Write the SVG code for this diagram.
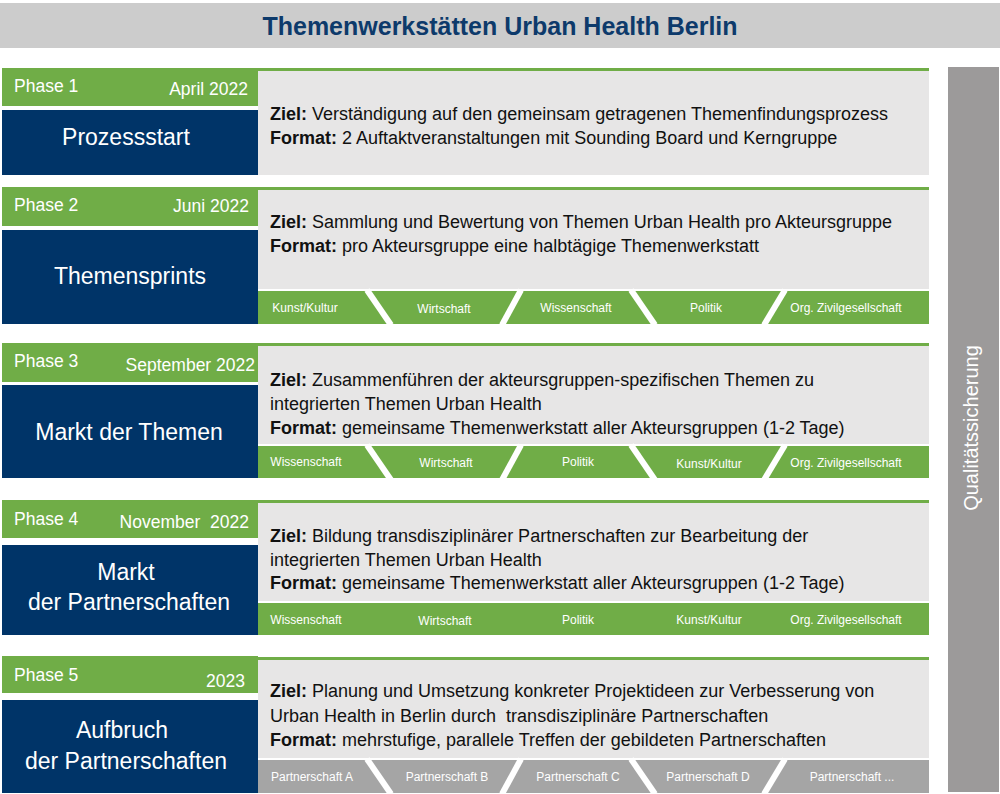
<svg xmlns="http://www.w3.org/2000/svg" xmlns:xlink="http://www.w3.org/1999/xlink" width="1000" height="794" viewBox="0 0 1000 794">
<style>
.hdr{fill:#70ad47}
.blue{fill:#003468}
.cont{fill:#e7e6e6}
.top{fill:#70ad47}
.strip{fill:#70ad47}
.gstrip{fill:#a5a5a5}
.ph{font-family:"Liberation Sans",Arial,sans-serif;font-size:17.5px;fill:#fff}
.dt{font-family:"Liberation Sans",Arial,sans-serif;font-size:17.5px;fill:#fff;text-anchor:end}
.ttl{font-family:"Liberation Sans",Arial,sans-serif;font-size:23px;fill:#fff;text-anchor:middle}
.body{font-family:"Liberation Sans",Arial,sans-serif;font-size:18px;fill:#111}
.body tspan.b{font-weight:bold}
.lab{font-family:"Liberation Sans",Arial,sans-serif;font-size:12px;fill:#fff;text-anchor:middle}
.gap{stroke:#fff;stroke-width:6;fill:none}
</style>
<defs>
<g id="chev">
<line class="gap" x1="367" y1="-1" x2="391" y2="34"/>
<line class="gap" x1="521" y1="-1" x2="502" y2="34"/>
<line class="gap" x1="631" y1="-1" x2="655" y2="34"/>
<line class="gap" x1="785" y1="-1" x2="764" y2="34"/>
</g>
</defs>
<rect width="1000" height="794" fill="#fff"/>
<g id="header">
<rect x="0" y="3" width="1000" height="45" fill="#cccccc"/>
<text x="500" y="35" text-anchor="middle" font-family="Liberation Sans,Arial,sans-serif" font-weight="bold" font-size="25" fill="#0d3a6b">Themenwerkstätten Urban Health Berlin</text>
</g>
<g id="qs">
<rect x="948" y="67" width="51" height="725" fill="#9c9a9a"/>
<text transform="translate(978,428) rotate(-90)" text-anchor="middle" font-family="Liberation Sans,Arial,sans-serif" font-size="20" fill="#fff">Qualitätssicherung</text>
</g>
<g id="phase1">
<rect class="hdr" x="2" y="68" width="256" height="38"/>
<text class="ph" x="14" y="92">Phase 1</text>
<text class="dt" x="248" y="95">April 2022</text>
<rect class="blue" x="2" y="110" width="256" height="65"/>
<text class="ttl" x="126" y="145">Prozessstart</text>
<rect class="cont" x="258" y="68" width="671" height="107"/>
<rect class="top" x="258" y="68" width="671" height="3"/>
<text class="body" x="270" y="120"><tspan class="b">Ziel:</tspan> Verständigung auf den gemeinsam getragenen Themenfindungsprozess</text>
<text class="body" x="270" y="144"><tspan class="b">Format:</tspan> 2 Auftaktveranstaltungen mit Sounding Board und Kerngruppe</text>
</g>
<g id="phase2">
<rect class="hdr" x="2" y="187" width="256" height="39"/>
<text class="ph" x="14" y="211">Phase 2</text>
<text class="dt" x="249" y="212">Juni 2022</text>
<rect class="blue" x="2" y="230" width="256" height="94"/>
<text class="ttl" x="130" y="284">Themensprints</text>
<rect class="cont" x="258" y="187" width="671" height="102"/>
<rect class="top" x="258" y="187" width="671" height="3"/>
<text class="body" x="270" y="228"><tspan class="b">Ziel:</tspan> Sammlung und Bewertung von Themen Urban Health pro Akteursgruppe</text>
<text class="body" x="270" y="252"><tspan class="b">Format:</tspan> pro Akteursgruppe eine halbtägige Themenwerkstatt</text>
<rect class="strip" x="258" y="291" width="671" height="33"/>
<use xlink:href="#chev" transform="translate(0,291)"/>
<text class="lab" x="305" y="312">Kunst/Kultur</text>
<text class="lab" x="444" y="313">Wirtschaft</text>
<text class="lab" x="576" y="312">Wissenschaft</text>
<text class="lab" x="706" y="312">Politik</text>
<text class="lab" x="846" y="312">Org. Zivilgesellschaft</text>
</g>
<g id="phase3">
<rect class="hdr" x="2" y="343" width="256" height="39"/>
<text class="ph" x="14" y="367">Phase 3</text>
<text class="dt" x="255" y="371">September 2022</text>
<rect class="blue" x="2" y="385" width="256" height="93"/>
<text class="ttl" x="129" y="440">Markt der Themen</text>
<rect class="cont" x="258" y="343" width="671" height="101"/>
<rect class="top" x="258" y="343" width="671" height="3"/>
<text class="body" x="270" y="386"><tspan class="b">Ziel:</tspan> Zusammenführen der akteursgruppen-spezifischen Themen zu</text>
<text class="body" x="270" y="410">integrierten Themen Urban Health</text>
<text class="body" x="270" y="434"><tspan class="b">Format:</tspan> gemeinsame Themenwerkstatt aller Akteursgruppen (1-2 Tage)</text>
<rect class="strip" x="258" y="446" width="671" height="32"/>
<use xlink:href="#chev" transform="translate(0,446)"/>
<text class="lab" x="306" y="466">Wissenschaft</text>
<text class="lab" x="446" y="467">Wirtschaft</text>
<text class="lab" x="578" y="466">Politik</text>
<text class="lab" x="709" y="468">Kunst/Kultur</text>
<text class="lab" x="846" y="467">Org. Zivilgesellschaft</text>
</g>
<g id="phase4">
<rect class="hdr" x="2" y="500" width="256" height="38"/>
<text class="ph" x="14" y="525">Phase 4</text>
<text class="dt" x="249" y="528" xml:space="preserve">November  2022</text>
<rect class="blue" x="2" y="545" width="256" height="90"/>
<text class="ttl" x="126" y="580">Markt</text>
<text class="ttl" x="129" y="610">der Partnerschaften</text>
<rect class="cont" x="258" y="500" width="671" height="101"/>
<rect class="top" x="258" y="500" width="671" height="3"/>
<text class="body" x="270" y="542"><tspan class="b">Ziel:</tspan> Bildung transdisziplinärer Partnerschaften zur Bearbeitung der</text>
<text class="body" x="270" y="566">integrierten Themen Urban Health</text>
<text class="body" x="270" y="589"><tspan class="b">Format:</tspan> gemeinsame Themenwerkstatt aller Akteursgruppen (1-2 Tage)</text>
<rect class="strip" x="258" y="603" width="671" height="32"/>
<text class="lab" x="306" y="624">Wissenschaft</text>
<text class="lab" x="445" y="625">Wirtschaft</text>
<text class="lab" x="578" y="624">Politik</text>
<text class="lab" x="709" y="624">Kunst/Kultur</text>
<text class="lab" x="846" y="624">Org. Zivilgesellschaft</text>
</g>
<g id="phase5">
<rect class="hdr" x="2" y="656" width="256" height="37"/>
<text class="ph" x="14" y="681">Phase 5</text>
<text class="dt" x="245" y="687">2023</text>
<rect class="blue" x="2" y="700" width="256" height="93"/>
<text class="ttl" x="122" y="738">Aufbruch</text>
<text class="ttl" x="126" y="769">der Partnerschaften</text>
<rect class="cont" x="258" y="657" width="671" height="101"/>
<rect class="top" x="258" y="657" width="671" height="3"/>
<text class="body" x="270" y="697"><tspan class="b">Ziel:</tspan> Planung und Umsetzung konkreter Projektideen zur Verbesserung von</text>
<text class="body" x="270" y="722" xml:space="preserve">Urban Health in Berlin durch  transdisziplinäre Partnerschaften</text>
<text class="body" x="270" y="746"><tspan class="b">Format:</tspan> mehrstufige, parallele Treffen der gebildeten Partnerschaften</text>
<rect class="gstrip" x="258" y="760" width="671" height="33"/>
<use xlink:href="#chev" transform="translate(0,760)"/>
<text class="lab" x="312" y="781">Partnerschaft A</text>
<text class="lab" x="447" y="781">Partnerschaft B</text>
<text class="lab" x="578" y="781">Partnerschaft C</text>
<text class="lab" x="708" y="781">Partnerschaft D</text>
<text class="lab" x="852" y="781">Partnerschaft ...</text>
</g>
</svg>
